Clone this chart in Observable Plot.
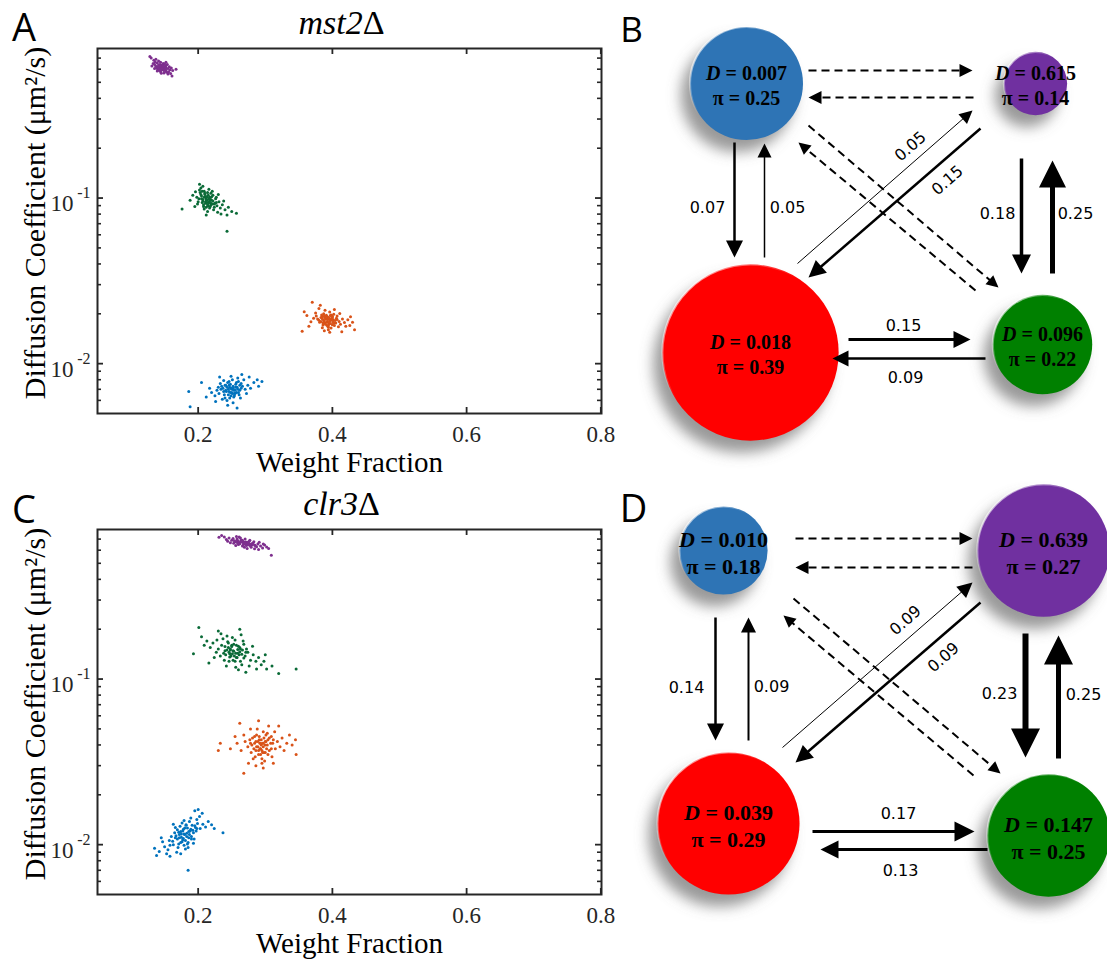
<!DOCTYPE html>
<html>
<head>
<meta charset="utf-8">
<script src="https://cdn.jsdelivr.net/npm/d3@7"></script>
<script src="https://cdn.jsdelivr.net/npm/@observablehq/plot@0.6"></script>
<style>
  body { margin: 0; background: #fff; }
  #fig { position: relative; width: 1107px; height: 966px; overflow: hidden; background: #fff; }
  #fig svg { position: absolute; }
</style>
</head>
<body>
<div id="fig"></div>
<script>
// ---------------- DATA ----------------
// Scatter clouds: [weight fraction, diffusion coefficient (µm²/s)]
const cloudKeys = ["state 1", "state 2", "state 3", "state 4"];
const cloudColors = ["#0072BD", "#D95319", "#0A6A37", "#7E2F8E"];
const xTicks = [0.2, 0.4, 0.6, 0.8];
const yMajorTicks = [0.01, 0.1];
const yMinorTicks = [0.006, 0.007, 0.008, 0.009, 0.02, 0.03, 0.04, 0.05, 0.06, 0.07, 0.08, 0.09, 0.2, 0.3, 0.4, 0.5, 0.6, 0.7];
const xDomain = [0.05, 0.801];
const yDomain = [0.005, 0.8];

const mst2Purple = [[0.146,0.615],[0.140,0.600],[0.152,0.630],[0.143,0.640],[0.149,0.590],[0.137,0.625],[0.155,0.605],[0.144,0.580],[0.148,0.650],[0.141,0.618],[0.151,0.598],[0.139,0.655],[0.153,0.575],[0.135,0.640],[0.158,0.595],[0.145,0.628],[0.147,0.603],[0.142,0.590],[0.150,0.622],[0.138,0.610],[0.154,0.640],[0.136,0.662],[0.156,0.580],[0.144,0.660],[0.149,0.570],[0.133,0.650],[0.160,0.610],[0.146,0.595],[0.141,0.672],[0.152,0.588],[0.131,0.628],[0.157,0.620],[0.143,0.608],[0.150,0.645],[0.139,0.585],[0.162,0.590],[0.134,0.680],[0.147,0.635],[0.155,0.562],[0.130,0.700],[0.167,0.600],[0.145,0.568],[0.137,0.690],[0.159,0.565],[0.142,0.625],[0.128,0.715],[0.161,0.545],[0.152,0.660],[0.135,0.605],[0.148,0.615],
  [0.145,0.612],[0.147,0.622],[0.143,0.617],[0.149,0.607],[0.144,0.626],[0.148,0.600],[0.146,0.633],[0.142,0.604],[0.150,0.614],[0.145,0.598],[0.147,0.611],[0.141,0.636],[0.151,0.603],[0.144,0.619],[0.148,0.625],[0.146,0.606],[0.143,0.628],[0.150,0.596],[0.140,0.620],[0.152,0.610]];
const mst2Green = [[0.213,0.097],[0.205,0.103],[0.221,0.092],[0.209,0.110],[0.217,0.101],[0.200,0.095],[0.226,0.099],[0.212,0.088],[0.207,0.098],[0.219,0.107],[0.215,0.094],[0.203,0.108],[0.228,0.090],[0.211,0.102],[0.223,0.085],[0.198,0.101],[0.216,0.113],[0.208,0.091],[0.231,0.095],[0.214,0.083],[0.204,0.115],[0.220,0.097],[0.210,0.105],[0.225,0.093],[0.218,0.089],[0.196,0.109],[0.233,0.087],[0.212,0.100],[0.206,0.094],[0.222,0.104],[0.229,0.082],[0.201,0.099],[0.217,0.096],[0.209,0.086],[0.236,0.091],[0.214,0.108],[0.224,0.088],[0.202,0.112],[0.219,0.093],[0.211,0.095],[0.240,0.085],[0.192,0.104],[0.227,0.101],[0.207,0.118],[0.234,0.080],[0.215,0.090],[0.245,0.088],[0.199,0.092],[0.221,0.110],[0.212,0.079],[0.188,0.097],[0.250,0.083],[0.243,0.079],[0.176,0.086],[0.257,0.081],[0.243,0.063],[0.202,0.121],[0.230,0.105],[0.238,0.096],[0.195,0.089],
  [0.212,0.098],[0.216,0.094],[0.209,0.101],[0.218,0.099],[0.214,0.091],[0.207,0.096],[0.220,0.102],[0.211,0.093],[0.215,0.104],[0.205,0.099],[0.222,0.096],[0.210,0.107],[0.217,0.087],[0.213,0.102],[0.208,0.089],[0.219,0.091],[0.204,0.105],[0.224,0.092],[0.212,0.095],[0.216,0.099],[0.227,0.094],[0.206,0.110]];
const mst2Orange = [[0.393,0.0185],[0.385,0.0192],[0.401,0.0178],[0.389,0.0176],[0.397,0.0195],[0.380,0.0183],[0.406,0.0188],[0.392,0.0170],[0.387,0.0200],[0.399,0.0183],[0.395,0.0174],[0.383,0.0190],[0.410,0.0180],[0.391,0.0193],[0.403,0.0170],[0.378,0.0186],[0.396,0.0205],[0.388,0.0181],[0.412,0.0173],[0.394,0.0166],[0.384,0.0197],[0.400,0.0190],[0.390,0.0187],[0.405,0.0176],[0.398,0.0164],[0.376,0.0194],[0.415,0.0186],[0.392,0.0179],[0.386,0.0171],[0.402,0.0199],[0.409,0.0167],[0.381,0.0178],[0.397,0.0185],[0.389,0.0210],[0.418,0.0177],[0.394,0.0160],[0.372,0.0188],[0.407,0.0194],[0.385,0.0165],[0.400,0.0172],[0.420,0.0168],[0.375,0.0202],[0.411,0.0201],[0.388,0.0158],[0.423,0.0184],[0.368,0.0179],[0.403,0.0212],[0.380,0.0215],[0.426,0.0170],[0.396,0.0155],[0.362,0.0195],[0.430,0.0178],[0.370,0.0235],[0.355,0.0157],[0.358,0.0206],[0.433,0.0160],[0.414,0.0156],[0.382,0.0225],[0.365,0.0168],[0.427,0.0192],
  [0.392,0.0186],[0.396,0.0181],[0.389,0.0190],[0.399,0.0188],[0.394,0.0177],[0.387,0.0183],[0.401,0.0184],[0.391,0.0196],[0.397,0.0175],[0.385,0.0187],[0.404,0.0182],[0.393,0.0191],[0.390,0.0173],[0.398,0.0197],[0.388,0.0194],[0.402,0.0176],[0.395,0.0189],[0.383,0.0180],[0.407,0.0185],[0.394,0.0170],[0.400,0.0193],[0.386,0.0176]];
const mst2Blue = [[0.250,0.0070],[0.242,0.0068],[0.258,0.0072],[0.246,0.0074],[0.254,0.0066],[0.237,0.0071],[0.262,0.0069],[0.249,0.0064],[0.244,0.0077],[0.256,0.0075],[0.231,0.0066],[0.252,0.0071],[0.266,0.0073],[0.240,0.0062],[0.248,0.0067],[0.260,0.0078],[0.235,0.0073],[0.253,0.0063],[0.270,0.0070],[0.245,0.0070],[0.228,0.0069],[0.257,0.0067],[0.264,0.0076],[0.239,0.0065],[0.251,0.0080],[0.243,0.0060],[0.274,0.0074],[0.233,0.0076],[0.255,0.0069],[0.247,0.0072],[0.261,0.0065],[0.225,0.0064],[0.268,0.0080],[0.241,0.0074],[0.236,0.0061],[0.259,0.0082],[0.278,0.0071],[0.230,0.0072],[0.252,0.0058],[0.246,0.0078],[0.220,0.0067],[0.283,0.0077],[0.263,0.0062],[0.238,0.0079],[0.272,0.0066],[0.217,0.0071],[0.288,0.0080],[0.249,0.0084],[0.226,0.0059],[0.265,0.0086],[0.290,0.0073],[0.212,0.0063],[0.244,0.0056],[0.276,0.0083],[0.186,0.0068],[0.188,0.0055],[0.205,0.0077],[0.295,0.0078],[0.258,0.0054],[0.232,0.0083],
  [0.249,0.0071],[0.253,0.0069],[0.246,0.0068],[0.256,0.0072],[0.251,0.0066],[0.243,0.0072],[0.259,0.0070],[0.248,0.0075],[0.254,0.0064],[0.241,0.0069],[0.262,0.0074],[0.250,0.0067],[0.245,0.0065],[0.257,0.0077],[0.238,0.0068],[0.252,0.0073],[0.247,0.0062],[0.264,0.0071],[0.234,0.0070],[0.255,0.0066],[0.240,0.0074],[0.260,0.0067]];

const clr3Purple = [[0.268,0.665],[0.260,0.650],[0.276,0.680],[0.264,0.690],[0.272,0.640],[0.255,0.675],[0.281,0.660],[0.266,0.635],[0.270,0.700],[0.258,0.700],[0.285,0.640],[0.262,0.665],[0.274,0.660],[0.250,0.690],[0.289,0.655],[0.267,0.645],[0.279,0.625],[0.253,0.660],[0.293,0.635],[0.263,0.710],[0.277,0.690],[0.246,0.712],[0.296,0.618],[0.271,0.672],[0.259,0.685],[0.283,0.675],[0.242,0.695],[0.299,0.645],[0.269,0.625],[0.287,0.630],[0.256,0.640],[0.275,0.650],[0.239,0.722],[0.302,0.628],[0.265,0.675],[0.291,0.670],[0.248,0.665],[0.280,0.645],[0.235,0.735],[0.305,0.615],[0.261,0.720],[0.284,0.612],[0.252,0.705],[0.297,0.655],[0.231,0.718],[0.309,0.560],[0.244,0.680],[0.290,0.605],[0.273,0.615],[0.257,0.725],
  [0.267,0.667],[0.271,0.660],[0.263,0.672],[0.275,0.663],[0.269,0.655],[0.260,0.668],[0.278,0.652],[0.265,0.680],[0.272,0.648],[0.257,0.678],[0.281,0.657],[0.268,0.673],[0.262,0.657],[0.274,0.670],[0.254,0.685],[0.284,0.645],[0.270,0.662],[0.259,0.660],[0.277,0.640],[0.266,0.690]];
const clr3Green = [[0.253,0.147],[0.245,0.155],[0.261,0.140],[0.249,0.138],[0.257,0.160],[0.240,0.148],[0.266,0.150],[0.252,0.130],[0.244,0.168],[0.259,0.143],[0.235,0.160],[0.270,0.138],[0.248,0.150],[0.263,0.128],[0.241,0.140],[0.255,0.172],[0.230,0.152],[0.274,0.145],[0.250,0.160],[0.262,0.155],[0.237,0.175],[0.278,0.130],[0.246,0.128],[0.268,0.162],[0.227,0.145],[0.258,0.135],[0.282,0.140],[0.243,0.182],[0.265,0.122],[0.233,0.138],[0.286,0.128],[0.251,0.178],[0.222,0.165],[0.272,0.152],[0.239,0.130],[0.290,0.135],[0.256,0.118],[0.228,0.172],[0.276,0.120],[0.247,0.142],[0.218,0.155],[0.294,0.122],[0.234,0.188],[0.267,0.170],[0.260,0.114],[0.213,0.170],[0.298,0.128],[0.242,0.120],[0.281,0.158],[0.224,0.135],[0.302,0.115],[0.209,0.160],[0.264,0.185],[0.287,0.115],[0.205,0.180],[0.310,0.120],[0.230,0.195],[0.262,0.200],[0.201,0.205],[0.193,0.142],[0.216,0.125],[0.320,0.108],[0.346,0.115],[0.300,0.140],[0.271,0.110],
  [0.252,0.148],[0.256,0.143],[0.248,0.152],[0.259,0.151],[0.254,0.138],[0.246,0.145],[0.262,0.146],[0.250,0.157],[0.257,0.135],[0.243,0.150],[0.265,0.141],[0.253,0.162],[0.247,0.136],[0.260,0.158],[0.240,0.157],[0.268,0.134],[0.251,0.142],[0.238,0.143],[0.263,0.152],[0.255,0.128],[0.245,0.165],[0.271,0.145]];
const clr3Orange = [[0.294,0.040],[0.286,0.042],[0.302,0.038],[0.290,0.037],[0.298,0.044],[0.280,0.040],[0.308,0.041],[0.293,0.035],[0.287,0.046],[0.300,0.040],[0.296,0.036],[0.283,0.038],[0.312,0.043],[0.291,0.043],[0.304,0.035],[0.277,0.043],[0.297,0.048],[0.289,0.039],[0.315,0.038],[0.295,0.033],[0.284,0.045],[0.301,0.042],[0.292,0.041],[0.306,0.037],[0.299,0.032],[0.274,0.039],[0.318,0.042],[0.293,0.038],[0.285,0.034],[0.303,0.047],[0.310,0.034],[0.279,0.036],[0.297,0.041],[0.288,0.050],[0.322,0.039],[0.295,0.031],[0.270,0.042],[0.309,0.045],[0.282,0.033],[0.300,0.036],[0.325,0.044],[0.268,0.046],[0.314,0.048],[0.286,0.030],[0.328,0.037],[0.264,0.037],[0.305,0.052],[0.278,0.050],[0.332,0.041],[0.297,0.029],[0.258,0.041],[0.336,0.046],[0.262,0.054],[0.290,0.056],[0.248,0.038],[0.340,0.040],[0.320,0.052],[0.255,0.045],[0.345,0.043],[0.230,0.037],[0.233,0.041],[0.268,0.027],[0.346,0.035],[0.312,0.031],[0.275,0.031],
  [0.293,0.041],[0.297,0.039],[0.289,0.042],[0.300,0.042],[0.295,0.037],[0.287,0.039],[0.303,0.040],[0.291,0.045],[0.298,0.036],[0.284,0.041],[0.306,0.044],[0.294,0.043],[0.290,0.035],[0.301,0.046],[0.281,0.044],[0.309,0.038],[0.296,0.041],[0.286,0.037],[0.304,0.043],[0.292,0.038],[0.278,0.041],[0.311,0.041]];
const clr3Blue = [[0.180,0.0115],[0.172,0.0110],[0.188,0.0121],[0.176,0.0104],[0.184,0.0126],[0.167,0.0113],[0.193,0.0118],[0.179,0.0099],[0.174,0.0120],[0.186,0.0110],[0.162,0.0105],[0.182,0.0132],[0.196,0.0127],[0.170,0.0096],[0.178,0.0124],[0.190,0.0112],[0.165,0.0118],[0.185,0.0103],[0.199,0.0134],[0.175,0.0116],[0.158,0.0099],[0.187,0.0138],[0.194,0.0108],[0.169,0.0123],[0.181,0.0094],[0.173,0.0129],[0.203,0.0125],[0.160,0.0112],[0.183,0.0117],[0.177,0.0107],[0.191,0.0131],[0.155,0.0093],[0.198,0.0142],[0.171,0.0101],[0.166,0.0127],[0.189,0.0145],[0.207,0.0133],[0.157,0.0106],[0.185,0.0096],[0.176,0.0135],[0.150,0.0097],[0.211,0.0128],[0.193,0.0102],[0.168,0.0090],[0.202,0.0148],[0.147,0.0104],[0.215,0.0138],[0.179,0.0140],[0.153,0.0088],[0.197,0.0121],[0.220,0.0132],[0.142,0.0091],[0.174,0.0088],[0.206,0.0155],[0.138,0.0086],[0.224,0.0125],[0.195,0.0160],[0.163,0.0133],[0.145,0.0110],[0.237,0.0118],[0.185,0.0070],[0.135,0.0095],[0.200,0.0163],[0.158,0.0085],
  [0.179,0.0116],[0.183,0.0112],[0.175,0.0111],[0.186,0.0120],[0.181,0.0106],[0.172,0.0115],[0.189,0.0124],[0.177,0.0121],[0.184,0.0101],[0.169,0.0108],[0.192,0.0122],[0.180,0.0126],[0.174,0.0103],[0.187,0.0115],[0.166,0.0110],[0.195,0.0130],[0.178,0.0109],[0.171,0.0119],[0.190,0.0108],[0.182,0.0131],[0.163,0.0100],[0.198,0.0125]];

// State diagrams: nodes, diffusion coefficients, weight fractions
const nodeNames = ["blue", "purple", "red", "green"];
const nodeColors = ["#2E74B5", "#7030A0", "#FF0000", "#008000"];
const mst2D = [0.007, 0.615, 0.018, 0.096];
const mst2Pi = [0.25, 0.14, 0.39, 0.22];
const clr3D = [0.010, 0.639, 0.039, 0.147];
const clr3Pi = [0.18, 0.27, 0.29, 0.25];
// transitions [from, to]; rates (null = dashed, unlabeled)
const transitions = [["blue","purple"],["purple","blue"],["blue","red"],["red","blue"],["red","purple"],["purple","red"],["blue","green"],["green","blue"],["purple","green"],["green","purple"],["red","green"],["green","red"]];
const mst2Rates = [null, null, 0.07, 0.05, 0.05, 0.15, null, null, 0.18, 0.25, 0.15, 0.09];
const clr3Rates = [null, null, 0.14, 0.09, 0.09, 0.09, null, null, 0.23, 0.25, 0.17, 0.13];

// ---------------- LAYOUT (diagram geometry, separate from data) ----------------
const mst2Layout = {
  centers: [[126,83],[415,83],[130,352],[422,344]],
  rMax: 226, textDy: [-10, 15], nodeFont: 20,
  letter: {text: "B", dx: 11, dy: 30, size: 35},
  // x1,y1,x2,y2,strokeWidth,headLength,labelX,labelY,labelRotate
  arrows: [
    [188,70,352,70,2,13],
    [353,97,188,97,2,13],
    [114,142,114,257,2.5,17,87,207,0],
    [144,257,144,143,1.5,14,167,207,0],
    [177,263,352,110,1,13,290,146,-41],
    [360,128,188,277,2.5,17,327,180,-41],
    [188,125,378,287,2,12],
    [355,290,178,142,2,12],
    [401,158,401,273,3.5,19,377,213,0],
    [432,273,432,160,5,27,455,213,0],
    [228,339,350,339,3,17,283,325,0],
    [365,358,212,358,2.5,16,285,377,0]
  ]
};
const clr3Layout = {
  centers: [[103,70],[423,70],[108,343],[428,355]],
  rMax: 245, textDy: [-11, 16], nodeFont: 22,
  letter: {text: "D", dx: 13, dy: 29, size: 38},
  arrows: [
    [175,58,352,58,2,13],
    [352,87,175,87,2,13],
    [95,137,95,260,2.5,17,66,207,0],
    [128,260,128,137,2,15,151,206,0],
    [162,267,352,102,1,15,285,140,-41],
    [360,122,175,282,2.5,17,323,177,-41],
    [173,118,380,293,2,12],
    [353,295,163,135,2,12],
    [405,153,405,277,6,29,379,213,0],
    [438,278,438,155,5,29,463,214,0],
    [192,351,354,351,3,20,278,333,0],
    [367,369,200,369,3,18,280,390,0]
  ]
};

// ---------------- RENDER ----------------
const serif = "'Liberation Serif', 'Times New Roman', serif";
const sans = "'Open Sans', 'Liberation Sans', sans-serif";
const fig = document.getElementById("fig");

function scatter(clouds, title, letter) {
  const pts = [];
  for (const [key, arr] of clouds) for (const [x, y] of arr) pts.push({key, x, y});
  const W = 620, H = 480, ml = 97, mr = 19, mt = 48, mb = 67;
  const fw = W - ml - mr, fh = H - mt - mb;
  const ax = "#262626";
  const svg = Plot.plot({
    width: W, height: H, marginLeft: ml, marginRight: mr, marginTop: mt, marginBottom: mb,
    x: {domain: xDomain, axis: null},
    y: {type: "log", domain: yDomain, axis: null},
    color: {type: "ordinal", domain: cloudKeys, range: cloudColors},
    style: {fontFamily: serif, background: "white", overflow: "visible"},
    marks: [
      Plot.dot(pts, {x: "x", y: "y", fill: "key", r: 1.5}),
      Plot.frame({stroke: ax, strokeWidth: 2}),
      Plot.tickY(yMajorTicks, {y: d => d, insetRight: fw - 6, stroke: ax, strokeWidth: 1.8}),
      Plot.tickY(yMajorTicks, {y: d => d, insetLeft: fw - 6, stroke: ax, strokeWidth: 1.8}),
      Plot.tickY(yMinorTicks, {y: d => d, insetRight: fw - 4, stroke: ax, strokeWidth: 1.6}),
      Plot.tickY(yMinorTicks, {y: d => d, insetLeft: fw - 4, stroke: ax, strokeWidth: 1.6}),
      Plot.tickX(xTicks, {x: d => d, insetTop: fh - 6, stroke: ax, strokeWidth: 1.8}),
      Plot.tickX(xTicks, {x: d => d, insetBottom: fh - 6, stroke: ax, strokeWidth: 1.8}),
      Plot.text(xTicks, {x: d => d, frameAnchor: "bottom", dy: 21, lineAnchor: "middle", text: d => d.toFixed(1), fontSize: 23, fill: ax}),
      Plot.text(yMajorTicks, {y: d => d, frameAnchor: "left", dx: -24, dy: 6, textAnchor: "end", lineAnchor: "middle", text: () => "10", fontSize: 23, fill: ax}),
      Plot.text(yMajorTicks, {y: d => d, frameAnchor: "left", dx: -7, dy: -5, textAnchor: "end", lineAnchor: "middle", text: d => String(Math.round(Math.log10(d))), fontSize: 16, fill: ax}),
      Plot.text(["Weight Fraction"], {frameAnchor: "bottom", dy: 49, textAnchor: "middle", lineAnchor: "middle", text: d => d, fontSize: 29, fill: "#000"}),
      Plot.text(["Diffusion Coefficient (μm²/s)"], {frameAnchor: "left", dx: -62, dy: -8, rotate: -90, textAnchor: "middle", lineAnchor: "middle", text: d => d, fontSize: 30, fill: "#000"}),
      Plot.text([title], {frameAnchor: "top", dx: -8, dy: -25, textAnchor: "middle", lineAnchor: "middle", text: d => d, fontSize: 34, fill: "#000"}),
      Plot.text([letter.text], {frameAnchor: "top-left", dx: letter.dx, dy: letter.dy, textAnchor: "middle", lineAnchor: "middle", text: d => d, fontFamily: sans, fontSize: letter.size, fill: "#000"})
    ]
  });
  // italic gene name, upright Δ
  d3.select(svg).selectAll("text").each(function () {
    const t = this.textContent;
    if (t === title) {
      const el = d3.select(this);
      el.text(null);
      el.append("tspan").attr("font-style", "italic").text(t.slice(0, -1));
      el.append("tspan").text(t.slice(-1));
    }
  });
  return svg;
}

function diagram(id, D, Pi, rates, layout, height) {
  const nodes = nodeNames.map((name, i) => ({
    name, color: nodeColors[i], D: D[i], pi: Pi[i], cx: layout.centers[i][0], cy: layout.centers[i][1]
  }));
  const arrows = transitions.map(([from, to], i) => {
    const [x1, y1, x2, y2, w, hl, lx, ly, lrot] = layout.arrows[i];
    const L = Math.hypot(x2 - x1, y2 - y1);
    const ux = (x2 - x1) / L, uy = (y2 - y1) / L;
    return {
      from, to, rate: rates[i], dashed: rates[i] == null,
      x1, y1, x2, y2, w, hl, lx, ly, lrot,
      sx2: x2 - ux * hl * 0.85, sy2: y2 - uy * hl * 0.85,
      angle: Math.atan2(x2 - x1, -(y2 - y1)) * 180 / Math.PI
    };
  });
  const solid = arrows.filter(d => !d.dashed);
  const dashed = arrows.filter(d => d.dashed);
  const head = {
    draw(context, l) {
      const hw = l * 0.5;
      context.moveTo(0, 0);
      context.lineTo(hw, l);
      context.lineTo(-hw, l);
      context.closePath();
    }
  };
  const f2 = d3.format(".2f"), f3 = d3.format(".3f");
  const svg = Plot.plot({
    width: 487, height, margin: 0,
    x: {type: "identity", axis: null},
    y: {type: "identity", axis: null},
    r: {type: "linear", domain: [0, 1], range: [0, layout.rMax]},
    length: {type: "identity"},
    color: {type: "identity"},
    style: {background: "white", overflow: "hidden"},
    marks: [
      Plot.dot(nodes, {x: "cx", y: "cy", r: "pi", fill: "#6e6e6e", fillOpacity: 0.7, dx: -9, dy: 12}),
      Plot.dot(nodes, {x: "cx", y: "cy", r: "pi", fill: "color", stroke: `url(#${id}rim)`, strokeWidth: 2.2}),
      Plot.link(dashed, {x1: "x1", y1: "y1", x2: "sx2", y2: "sy2", stroke: "#000", strokeWidth: "w", strokeDasharray: "8,5"}),
      Plot.link(solid, {x1: "x1", y1: "y1", x2: "sx2", y2: "sy2", stroke: "#000", strokeWidth: "w"}),
      Plot.vector(arrows, {x: "x2", y: "y2", length: "hl", rotate: "angle", anchor: "start", shape: head, fill: "#000", stroke: "none"}),
      Plot.text(nodes, {x: "cx", y: "cy", dy: layout.textDy[0], text: d => `D = ${f3(d.D)}`, fontFamily: serif, fontWeight: "bold", fontSize: layout.nodeFont, fill: "#000"}),
      Plot.text(nodes, {x: "cx", y: "cy", dy: layout.textDy[1], text: d => `π = ${f2(d.pi)}`, fontFamily: serif, fontWeight: "bold", fontSize: layout.nodeFont, fill: "#000"}),
      Plot.text(solid, {x: "lx", y: "ly", rotate: "lrot", text: d => f2(d.rate), fontFamily: "'DejaVu Sans', sans-serif", fontSize: 16, fill: "#000"}),
      Plot.text([layout.letter.text], {frameAnchor: "top-left", dx: layout.letter.dx, dy: layout.letter.dy, textAnchor: "middle", lineAnchor: "middle", text: d => d, fontFamily: sans, fontSize: layout.letter.size, fill: "#000"})
    ]
  });
  const s = d3.select(svg);
  const defs = s.insert("defs", ":first-child");
  defs.append("filter").attr("id", id + "blur")
    .attr("x", "-50%").attr("y", "-50%").attr("width", "200%").attr("height", "200%")
    .append("feGaussianBlur").attr("stdDeviation", 7);
  const g = defs.append("linearGradient").attr("id", id + "rim")
    .attr("x1", 0).attr("y1", 0).attr("x2", 1).attr("y2", 1);
  g.append("stop").attr("offset", "0%").attr("stop-color", "#fff").attr("stop-opacity", 0.95);
  g.append("stop").attr("offset", "42%").attr("stop-color", "#fff").attr("stop-opacity", 0);
  const dotGroups = svg.querySelectorAll('g[aria-label="dot"]');
  if (dotGroups.length) dotGroups[0].setAttribute("filter", `url(#${id}blur)`);
  s.selectAll("text").each(function () {
    const t = this.textContent;
    if (t.startsWith("D = ")) {
      const el = d3.select(this);
      el.text(null);
      el.append("tspan").attr("font-style", "italic").text("D");
      el.append("tspan").text(t.slice(1));
    }
  });
  return svg;
}

function place(svg, left, top) {
  svg.style.left = left + "px";
  svg.style.top = top + "px";
  fig.appendChild(svg);
}

place(scatter([["state 1", mst2Blue], ["state 2", mst2Orange], ["state 3", mst2Green], ["state 4", mst2Purple]], "mst2Δ", {text: "A", dx: -73.5, dy: -19.5, size: 38}), 0, 0);
place(scatter([["state 1", clr3Blue], ["state 2", clr3Orange], ["state 3", clr3Green], ["state 4", clr3Purple]], "clr3Δ", {text: "C", dx: -73.5, dy: -18.5, size: 38}), 0, 481);
place(diagram("B", mst2D, mst2Pi, mst2Rates, mst2Layout, 480), 620, 0);
place(diagram("D", clr3D, clr3Pi, clr3Rates, clr3Layout, 486), 620, 480);
</script>
</body>
</html>
